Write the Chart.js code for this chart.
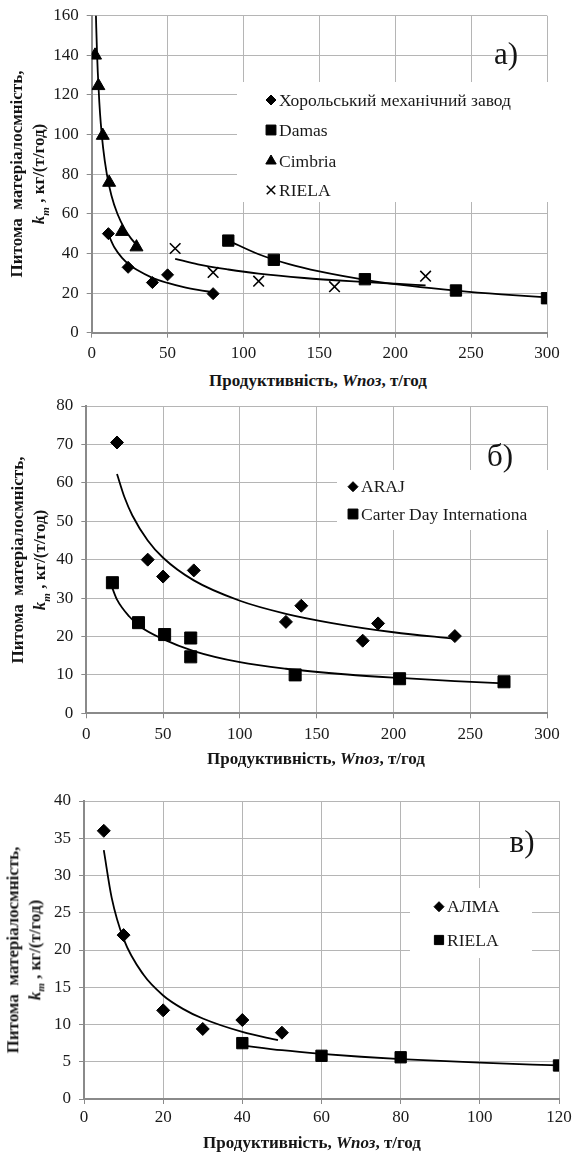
<!DOCTYPE html>
<html>
<head>
<meta charset="utf-8">
<script src="https://cdn.jsdelivr.net/npm/chart.js@4.4.1/dist/chart.umd.min.js"></script>
<style>
html,body{margin:0;padding:0;background:#fff;}
body{width:573px;height:1163px;position:relative;overflow:hidden;font-family:"Liberation Serif","Times New Roman",serif;color:#151515;}
canvas{position:absolute;left:0;}
.xt{position:absolute;font-weight:bold;font-size:17px;white-space:nowrap;transform:translate(-50%,-50%);}
.yt{position:absolute;font-weight:bold;font-size:17px;white-space:nowrap;text-align:center;line-height:22px;transform:translate(-50%,-50%) rotate(-90deg);}
.pl{position:absolute;font-size:31px;line-height:1;white-space:nowrap;transform:translate(-50%,-50%);}
</style>
</head>
<body>
<canvas id="ca" width="573" height="370" style="top:0px"></canvas>
<canvas id="cb" width="573" height="360" style="top:392px"></canvas>
<canvas id="cc" width="573" height="350" style="top:785px"></canvas>

<div class="xt" style="left:318px;top:381px">Продуктивність, <i>Wпоз</i>, т/год</div>
<div class="xt" style="left:316px;top:759px">Продуктивність, <i>Wпоз</i>, т/год</div>
<div class="xt" style="left:312px;top:1143px">Продуктивність, <i>Wпоз</i>, т/год</div>

<div class="yt" style="left:31px;top:174px">Питома&nbsp; матеріалосмність,<br><i>k<sub style="font-size:11px">m</sub></i> , кг/(т/год)</div>
<div class="yt" style="left:32px;top:560px">Питома&nbsp; матеріалосмність,<br><i>k<sub style="font-size:11px">m</sub></i> , кг/(т/год)</div>
<div class="yt" style="left:27px;top:950px">Питома&nbsp; матеріалосмність,<br><i>k<sub style="font-size:11px">m</sub></i> , кг/(т/год)</div>

<div class="pl" style="left:506px;top:53px">а)</div>
<div class="pl" style="left:500px;top:455px">б)</div>
<div class="pl" style="left:522px;top:841px">в)</div>

<script>
// ---------- Chart а) ----------
const aLabels = ['Хорольський механічний завод', 'Damas', 'Cimbria', 'RIELA'];
const horolX = [11, 24, 40, 50, 80];
const horolY = [50, 33, 25.3, 29.2, 19.7];
const damasX = [90, 120, 180, 240, 300];
const damasY = [46.5, 36.8, 27, 21.3, 17.4];
const cimbriaX = [2.2, 4.4, 7.3, 11.5, 20, 29.5];
const cimbriaY = [140, 124.6, 99.5, 75.8, 51, 43.2];
const rielaAX = [55, 80, 110, 160, 220];
const rielaAY = [42.5, 30.4, 26, 23.2, 28.5];
// trend curves
const horolTrendX = [11, 15, 20, 25, 30, 40, 50, 60, 70, 80];
const horolTrendY = [49.5, 43, 37.8, 34.2, 31.6, 27.7, 25.1, 23.1, 21.6, 20.4];
const damasTrendX = [90, 110, 130, 150, 180, 210, 240, 270, 300];
const damasTrendY = [46.5, 39.6, 34.6, 30.9, 26.7, 23.6, 21.2, 19.3, 17.8];
const cimbriaTrendX = [2.2, 2.7, 3, 3.5, 4, 5, 6, 7.5, 10, 13, 17, 22, 26, 30];
const cimbriaTrendY = [182, 163, 154, 141.5, 131.6, 116.6, 105.5, 93.4, 79.9, 69.3, 59.9, 52, 47.5, 44];
const rielaATrendX = [55, 70, 90, 110, 140, 170, 200, 220];
const rielaATrendY = [37.3, 34.5, 31.9, 29.8, 27.6, 26, 24.7, 23.9];
const aXTicks = {min: 0, max: 300, step: 50};
const aYTicks = {min: 0, max: 160, step: 20};

// ---------- Chart б) ----------
const bLabels = ['ARAJ', 'Carter Day Internationa'];
const arajX = [20, 40, 50, 70, 130, 140, 180, 190, 240];
const arajY = [70.5, 40, 35.6, 37.2, 23.8, 28, 18.9, 23.4, 20.1];
const carterX = [17, 34, 51, 68, 68, 136, 204, 272];
const carterY = [34, 23.6, 20.5, 19.6, 14.7, 10, 9, 8.2];
const arajTrendX = [20, 25, 30, 40, 50, 70, 100, 130, 160, 200, 240];
const arajTrendY = [62.3, 56.1, 51.5, 45, 40.5, 34.6, 29.3, 25.9, 23.5, 21.1, 19.4];
const carterTrendX = [17, 20, 28, 35, 50, 70, 100, 130, 170, 204, 240, 272];
const carterTrendY = [32.5, 29.6, 25.2, 22.6, 19.3, 16.2, 13.3, 11.6, 10.1, 9.2, 8.4, 7.8];
const bXTicks = {min: 0, max: 300, step: 50};
const bYTicks = {min: 0, max: 80, step: 10};

// ---------- Chart в) ----------
const cLabels = ['АЛМА', 'RIELA'];
const almaX = [5, 10, 20, 30, 40, 50];
const almaY = [36, 22, 11.9, 9.4, 10.6, 8.9];
const rielaCX = [40, 60, 80, 120];
const rielaCY = [7.5, 5.8, 5.6, 4.5];
const almaTrendX = [5, 7, 10, 15, 20, 25, 30, 40, 49];
const almaTrendY = [33.4, 27, 21.5, 16.7, 13.9, 12.1, 10.8, 9, 7.9];
const rielaCTrendX = [40, 50, 60, 70, 80, 100, 120];
const rielaCTrendY = [7.2, 6.55, 6.06, 5.67, 5.35, 4.87, 4.5];
const cXTicks = {min: 0, max: 120, step: 20};
const cYTicks = {min: 0, max: 40, step: 5};

// ---------- helpers ----------
const FONT = "'Liberation Serif', 'Times New Roman', serif";
Chart.defaults.font.family = FONT;
Chart.defaults.color = '#1a1a1a';
const pts = (xs, ys) => xs.map((x, i) => ({x: x, y: ys[i]}));

function markerSet(label, xs, ys, style, radius, bw) {
  return {
    type: 'scatter', label: label, data: pts(xs, ys),
    pointStyle: style, pointRadius: radius, pointHoverRadius: radius,
    backgroundColor: '#000', borderColor: '#000', borderWidth: bw || 1,
    showLine: false
  };
}
function trendSet(xs, ys) {
  return {
    type: 'scatter', label: '', data: pts(xs, ys), showLine: true,
    borderColor: '#000', borderWidth: 1.8, pointRadius: 0, pointHoverRadius: 0,
    cubicInterpolationMode: 'monotone', fill: false
  };
}

const insideLegend = {
  id: 'insideLegend',
  beforeDatasetsDraw(chart, args, opts) {
    if (!opts || !opts.box) return;
    const ctx = chart.ctx;
    const b = opts.box;
    ctx.save();
    ctx.fillStyle = '#fff';
    ctx.fillRect(b[0], b[1], b[2] - b[0], b[3] - b[1]);
    ctx.font = opts.fontSize + 'px ' + FONT;
    ctx.textBaseline = 'middle';
    ctx.textAlign = 'left';
    opts.items.forEach(it => {
      const ds = chart.data.datasets[it.ds];
      ctx.fillStyle = '#000';
      ctx.strokeStyle = '#000';
      ctx.lineWidth = it.bw || 1;
      Chart.helpers.drawPoint(ctx, {pointStyle: ds.pointStyle, radius: it.r, borderWidth: it.bw || 1, rotation: 0}, it.mx, it.y);
      ctx.fillStyle = '#1a1a1a';
      ctx.fillText(ds.label, it.tx, it.y + 1);
    });
    ctx.restore();
  }
};

function axis(t, fitSize, horizontal, tickPad) {
  return {
    type: 'linear', min: t.min, max: t.max,
    ticks: {stepSize: t.step, autoSkip: false, maxRotation: 0, padding: tickPad,
            color: '#1a1a1a', font: {family: FONT, size: 17}},
    grid: {color: '#b5b5b5', lineWidth: 1, tickLength: 5, tickColor: '#8a8a8a', drawTicks: true},
    border: {color: '#8a8a8a', width: 2},
    afterFit(s) {
      if (horizontal) { s.height = fitSize; s.paddingLeft = 0; s.paddingRight = 0; }
      else { s.width = fitSize; s.paddingTop = 0; s.paddingBottom = 0; }
    }
  };
}

function build(id, datasets, xt, yt, layout, legendOpts) {
  return new Chart(document.getElementById(id), {
    type: 'scatter',
    data: {datasets: datasets},
    options: {
      responsive: false, animation: false, events: [],
      layout: {padding: layout.padding},
      scales: {
        x: axis(xt, layout.xH, true, layout.xPad),
        y: axis(yt, layout.yW, false, 8)
      },
      plugins: {legend: {display: false}, tooltip: {enabled: false}, insideLegend: legendOpts}
    },
    plugins: [insideLegend]
  });
}

// Chart а)
build('ca', [
  markerSet(aLabels[0], horolX, horolY, 'rectRot', 6),
  markerSet(aLabels[1], damasX, damasY, 'rect', 8),
  markerSet(aLabels[2], cimbriaX, cimbriaY, 'triangle', 7.5),
  markerSet(aLabels[3], rielaAX, rielaAY, 'crossRot', 7.5, 1.6),
  trendSet(horolTrendX, horolTrendY),
  trendSet(damasTrendX, damasTrendY),
  trendSet(cimbriaTrendX, cimbriaTrendY),
  trendSet(rielaATrendX, rielaATrendY)
], aXTicks, aYTicks,
{padding: {left: 0, top: 15.7, right: 26, bottom: 7.3}, xH: 30, yW: 91.7, xPad: 6},
{box: [237, 82, 550, 202], fontSize: 17.5, items: [
  {ds: 0, mx: 271, tx: 279, y: 100, r: 5},
  {ds: 1, mx: 271, tx: 279, y: 130, r: 7},
  {ds: 2, mx: 271, tx: 279, y: 161, r: 6},
  {ds: 3, mx: 271, tx: 279, y: 190, r: 6, bw: 1.5}
]});

// Chart б)
build('cb', [
  markerSet(bLabels[0], arajX, arajY, 'rectRot', 6.5),
  markerSet(bLabels[1], carterX, carterY, 'rect', 8.5),
  trendSet(arajTrendX, arajTrendY),
  trendSet(carterTrendX, carterTrendY)
], bXTicks, bYTicks,
{padding: {left: 0, top: 14, right: 26, bottom: 8.7}, xH: 30, yW: 86.3, xPad: 6},
{box: [337, 78, 550, 138], fontSize: 17.5, items: [
  {ds: 0, mx: 353, tx: 361, y: 94.7, r: 5},
  {ds: 1, mx: 353, tx: 361, y: 122, r: 7}
]});

// Chart в)
build('cc', [
  markerSet(cLabels[0], almaX, almaY, 'rectRot', 6.5),
  markerSet(cLabels[1], rielaCX, rielaCY, 'rect', 8),
  trendSet(almaTrendX, almaTrendY),
  trendSet(rielaCTrendX, rielaCTrendY)
], cXTicks, cYTicks,
{padding: {left: 0, top: 16, right: 14, bottom: 6}, xH: 30, yW: 84, xPad: 3},
{box: [410, 103, 532, 173], fontSize: 17.5, items: [
  {ds: 0, mx: 439, tx: 447, y: 121.7, r: 5},
  {ds: 1, mx: 439, tx: 447, y: 155, r: 6.5}
]});
</script>
</body>
</html>
